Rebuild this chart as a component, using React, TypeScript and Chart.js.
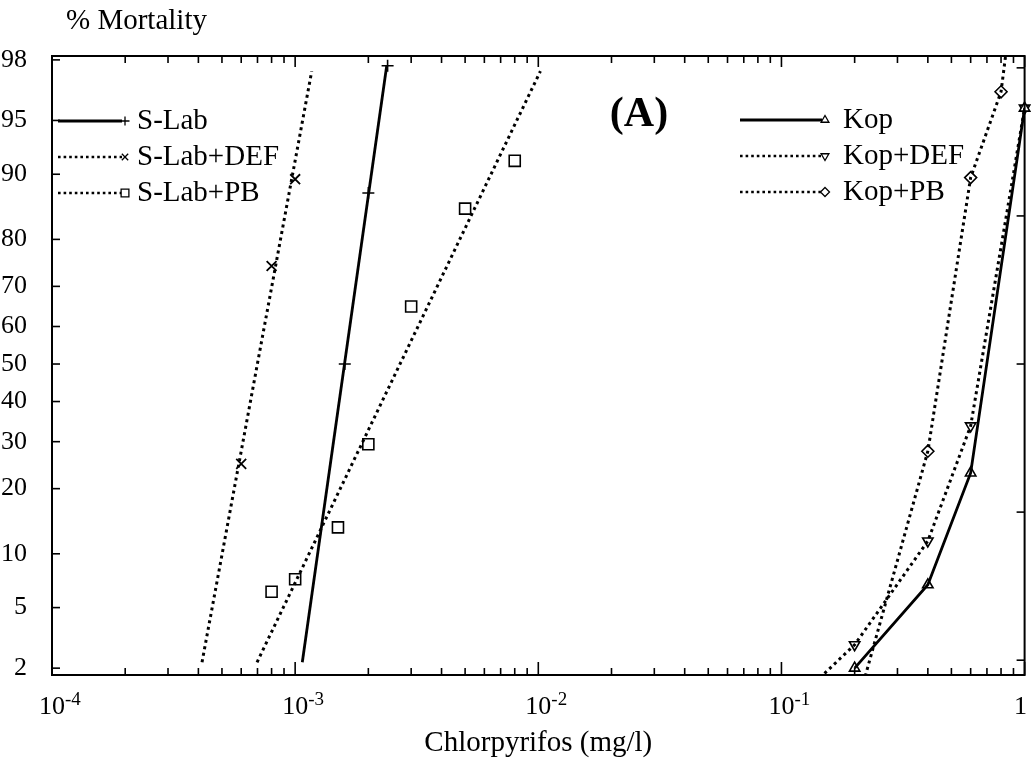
import React, { useEffect, useRef } from "react";
import { Chart, registerables } from "chart.js";

Chart.register(...registerables);

// ---------- data (concentration in mg/l, mortality in %) ----------
const yTickPercents = [2, 5, 10, 20, 30, 40, 50, 60, 70, 80, 90, 95, 98];
const rightTickProbits = [-2, -1, 0, 1, 2];
const xDecades = [-4, -3, -2, -1, 0];
const xMultipliers = [1, 2, 3, 4, 5, 6, 7, 8, 9];
const xLabelExponents = ["-4", "-3", "-2", "-1", ""];

// S-Lab: fitted probit line + observations
const sLabFitX = [1.07e-3, 2.38e-3];
const sLabFitY = [2.2, 97.8];
const sLabObsX = [1.6e-3, 2.0e-3, 2.4e-3];
const sLabObsY = [50, 87.6, 97.8];

// S-Lab+DEF
const sLabDefFitX = [4.14e-4, 1.17e-3];
const sLabDefFitY = [2.2, 97.6];
const sLabDefObsX = [6.0e-4, 8.0e-4, 1.0e-3];
const sLabDefObsY = [25, 74.6, 89.4];

// S-Lab+PB
const sLabPbFitX = [6.97e-4, 1.02e-2];
const sLabPbFitY = [2.2, 97.6];
const sLabPbObsX = [8e-4, 1e-3, 1.5e-3, 2e-3, 3e-3, 5e-3, 8e-3];
const sLabPbObsY = [6.2, 7.3, 13.5, 29.4, 65.1, 85.3, 91.5];

// Kop
const kopLineX = [0.2, 0.4, 0.6, 1];
const kopLineY = [2, 6.8, 23.1, 95.8];
const kopObsX = [0.2, 0.4, 0.6, 1];
const kopObsY = [2, 6.8, 23.1, 95.8];

// Kop+DEF
const kopDefLineX = [0.1, 0.2, 0.4, 0.6, 1];
const kopDefLineY = [0.9, 2.9, 11.6, 33.8, 95.8];
const kopDefObsX = [0.2, 0.4, 0.6, 1];
const kopDefObsY = [2.9, 11.6, 33.8, 95.8];

// Kop+PB
const kopPbLineX = [0.2, 0.4, 0.6, 0.8, 1];
const kopPbLineY = [0.9, 27.8, 89.6, 96.7, 99.9];
const kopPbObsX = [0.4, 0.6, 0.8];
const kopPbObsY = [27.8, 89.6, 96.7];

// ---------- helpers ----------
function probit(p: number): number {
  const a = [-3.969683028665376e1, 2.209460984245205e2, -2.759285104469687e2, 1.38357751867269e2, -3.066479806614716e1, 2.506628277459239];
  const b = [-5.447609879822406e1, 1.615858368580409e2, -1.556989798598866e2, 6.680131188771972e1, -1.328068155288572e1];
  const c = [-7.784894002430293e-3, -3.223964580411365e-1, -2.400758277161838, -2.549671348874888, 4.374664141464968, 2.938163982698783];
  const d = [7.784695709041462e-3, 3.224671290700398e-1, 2.445134137142996, 3.754408661907416];
  const pl = 0.02425;
  if (p < pl) {
    const q = Math.sqrt(-2 * Math.log(p));
    return (((((c[0] * q + c[1]) * q + c[2]) * q + c[3]) * q + c[4]) * q + c[5]) / ((((d[0] * q + d[1]) * q + d[2]) * q + d[3]) * q + 1);
  }
  if (p <= 1 - pl) {
    const q = p - 0.5;
    const r = q * q;
    return ((((((a[0] * r + a[1]) * r + a[2]) * r + a[3]) * r + a[4]) * r + a[5]) * q) / (((((b[0] * r + b[1]) * r + b[2]) * r + b[3]) * r + b[4]) * r + 1);
  }
  const q = Math.sqrt(-2 * Math.log(1 - p));
  return -(((((c[0] * q + c[1]) * q + c[2]) * q + c[3]) * q + c[4]) * q + c[5]) / ((((d[0] * q + d[1]) * q + d[2]) * q + d[3]) * q + 1);
}

const pts = (xs: number[], ys: number[]) => xs.map((x, i) => ({ x, y: probit(ys[i] / 100) }));

const SERIF = "'Liberation Serif', 'Times New Roman', serif";
const DOT = [3, 3.6];

type Series = {
  label: string;
  lineX: number[]; lineY: number[];
  obsX: number[]; obsY: number[];
  dash: number[]; marker: string; rotation: number; radius: number; markerWidth: number;
  side: "left" | "right";
};

const series: Series[] = [
  { label: "S-Lab", lineX: sLabFitX, lineY: sLabFitY, obsX: sLabObsX, obsY: sLabObsY, dash: [], marker: "cross", rotation: 0, radius: 6, markerWidth: 1.6, side: "left" },
  { label: "S-Lab+DEF", lineX: sLabDefFitX, lineY: sLabDefFitY, obsX: sLabDefObsX, obsY: sLabDefObsY, dash: DOT, marker: "crossRot", rotation: 0, radius: 7, markerWidth: 1.8, side: "left" },
  { label: "S-Lab+PB", lineX: sLabPbFitX, lineY: sLabPbFitY, obsX: sLabPbObsX, obsY: sLabPbObsY, dash: DOT, marker: "rect", rotation: 0, radius: 7.8, markerWidth: 1.6, side: "left" },
  { label: "Kop", lineX: kopLineX, lineY: kopLineY, obsX: kopObsX, obsY: kopObsY, dash: [], marker: "triangle", rotation: 0, radius: 6, markerWidth: 1.6, side: "right" },
  { label: "Kop+DEF", lineX: kopDefLineX, lineY: kopDefLineY, obsX: kopDefObsX, obsY: kopDefObsY, dash: DOT, marker: "triangle", rotation: 180, radius: 6, markerWidth: 1.6, side: "right" },
  { label: "Kop+PB", lineX: kopPbLineX, lineY: kopPbLineY, obsX: kopPbObsX, obsY: kopPbObsY, dash: DOT, marker: "rectRot", rotation: 0, radius: 6, markerWidth: 1.6, side: "right" },
];

function drawMarker(ctx: CanvasRenderingContext2D, style: string, x: number, y: number, r: number, rotation: number) {
  ctx.beginPath();
  if (style === "cross") {
    ctx.moveTo(x - r, y); ctx.lineTo(x + r, y);
    ctx.moveTo(x, y - r); ctx.lineTo(x, y + r);
    ctx.stroke();
    return;
  }
  if (style === "crossRot") {
    const o = r * Math.SQRT1_2;
    ctx.moveTo(x - o, y - o); ctx.lineTo(x + o, y + o);
    ctx.moveTo(x - o, y + o); ctx.lineTo(x + o, y - o);
    ctx.stroke();
    return;
  }
  if (style === "rect") {
    const s = r * Math.SQRT1_2;
    ctx.rect(x - s, y - s, 2 * s, 2 * s);
  } else if (style === "rectRot") {
    ctx.moveTo(x, y - r); ctx.lineTo(x + r, y); ctx.lineTo(x, y + r); ctx.lineTo(x - r, y); ctx.closePath();
  } else if (style === "triangle") {
    const base = (rotation * Math.PI) / 180 - Math.PI / 2;
    for (let k = 0; k < 3; k++) {
      const ang = base + (k * 2 * Math.PI) / 3;
      const px = x + Math.cos(ang) * r;
      const py = y + Math.sin(ang) * r;
      if (k === 0) ctx.moveTo(px, py); else ctx.lineTo(px, py);
    }
    ctx.closePath();
  }
  ctx.fillStyle = "#fff";
  ctx.fill();
  ctx.stroke();
}

const decorPlugin = {
  id: "decor",
  afterDraw(chart: any) {
    const { ctx, chartArea } = chart;
    const { left, right, top, bottom } = chartArea;
    const xs = chart.scales.x;
    const ys = chart.scales.y;
    const line = (x1: number, y1: number, x2: number, y2: number) => {
      ctx.beginPath(); ctx.moveTo(x1, y1); ctx.lineTo(x2, y2); ctx.stroke();
    };
    ctx.save();
    ctx.strokeStyle = "#000";
    ctx.fillStyle = "#000";
    ctx.lineCap = "butt";
    ctx.setLineDash([]);

    // frame
    ctx.lineWidth = 2;
    ctx.strokeRect(left, top, right - left, bottom - top);

    // x ticks (bottom and top, inward)
    ctx.lineWidth = 1.6;
    for (const d of xDecades) {
      for (const m of xMultipliers) {
        const v = m * Math.pow(10, d);
        if (v > 1.0000001) continue;
        const px = xs.getPixelForValue(v);
        const major = m === 1;
        line(px, bottom, px, bottom - (major ? 13 : 7));
        line(px, top, px, top + (major ? 11 : 7));
      }
    }
    // left ticks
    for (const p of yTickPercents) {
      const py = ys.getPixelForValue(probit(p / 100));
      line(left, py, left + 8, py);
    }
    // right ticks (probit units)
    for (const z of rightTickProbits) {
      const py = ys.getPixelForValue(z);
      line(right, py, right - 8, py);
    }

    // x tick labels 10^n
    ctx.textBaseline = "alphabetic";
    xDecades.forEach((d, i) => {
      const px = xs.getPixelForValue(Math.pow(10, d));
      const exp = xLabelExponents[i];
      ctx.font = `26px ${SERIF}`;
      ctx.textAlign = "center";
      if (!exp) {
        ctx.fillText("1", px - 4, 714);
        return;
      }
      ctx.fillText("10", px, 714);
      const w = ctx.measureText("10").width;
      ctx.font = `19px ${SERIF}`;
      ctx.textAlign = "left";
      ctx.fillText(exp, px + w / 2, 705);
    });

    // axis titles and annotation
    ctx.font = `29px ${SERIF}`;
    ctx.textAlign = "left";
    ctx.fillText("% Mortality", 66, 29);
    ctx.textAlign = "center";
    ctx.fillText("Chlorpyrifos (mg/l)", (left + right) / 2, 751);
    ctx.font = `bold 42px ${SERIF}`;
    ctx.fillText("(A)", 639, 126);

    // legends
    const leftRows = [121, 157, 193];
    const rightRows = [120, 156, 192];
    let li = 0;
    let ri = 0;
    for (const s of series) {
      const isLeft = s.side === "left";
      const rowY = isLeft ? leftRows[li++] : rightRows[ri++];
      const x0 = isLeft ? 58 : 740;
      const x1 = isLeft ? 122 : 822;
      const tx = isLeft ? 137 : 843;
      ctx.lineWidth = s.dash.length ? 2.6 : 2.8;
      ctx.setLineDash(s.dash.length ? [2.6, 3] : []);
      line(x0, rowY, x1, rowY);
      ctx.setLineDash([]);
      ctx.lineWidth = 1.3;
      drawMarker(ctx, s.marker, x1 + 3, rowY, s.marker === "rect" ? 5.5 : 4.5, s.rotation);
      ctx.fillStyle = "#000";
      ctx.font = `29px ${SERIF}`;
      ctx.textAlign = "left";
      ctx.fillText(s.label, tx, rowY + 8);
    }
    ctx.restore();
  },
};

export default function App() {
  const ref = useRef<HTMLCanvasElement | null>(null);

  useEffect(() => {
    document.body.style.margin = "0";
    const datasets: any[] = [];
    for (const s of series) {
      datasets.push({
        label: s.label + " line",
        data: pts(s.lineX, s.lineY),
        showLine: true,
        borderColor: "#000",
        borderWidth: s.dash.length ? 3 : 2.8,
        borderDash: s.dash,
        pointRadius: 0,
        fill: false,
        tension: 0,
      });
    }
    for (const s of series) {
      datasets.push({
        label: s.label,
        data: pts(s.obsX, s.obsY),
        showLine: false,
        borderColor: "#000",
        backgroundColor: "#fff",
        pointStyle: s.marker,
        pointRotation: s.rotation,
        pointRadius: s.radius,
        pointBorderWidth: s.markerWidth,
        clip: 12,
      });
    }

    const chart = new Chart(ref.current as HTMLCanvasElement, {
      type: "scatter",
      data: { datasets },
      options: {
        animation: false,
        responsive: false,
        maintainAspectRatio: false,
        layout: { padding: { top: 56, right: 9, left: 0, bottom: 0 } },
        plugins: { legend: { display: false }, tooltip: { enabled: false }, title: { display: false } },
        scales: {
          x: {
            type: "logarithmic",
            min: 1e-4,
            max: 1,
            grid: { display: false },
            border: { display: false },
            ticks: { display: false },
            afterFit: (s: any) => { s.height = 88; },
          },
          y: {
            type: "linear",
            min: -2.1,
            max: 2.08,
            grid: { display: false },
            border: { display: false },
            afterBuildTicks: (s: any) => {
              s.ticks = yTickPercents.map((p) => ({ value: probit(p / 100) }));
            },
            ticks: {
              autoSkip: false,
              padding: 17,
              color: "#000",
              font: { family: SERIF, size: 26 },
              callback: (_v: any, i: number) => String(yTickPercents[i]),
            },
            afterFit: (s: any) => { s.width = 52; },
          },
        },
      } as any,
      plugins: [decorPlugin],
    });
    return () => chart.destroy();
  }, []);

  return (
    <div style={{ width: 1034, height: 763, background: "#fff" }}>
      <canvas ref={ref} width={1034} height={763} style={{ display: "block" }} />
    </div>
  );
}
